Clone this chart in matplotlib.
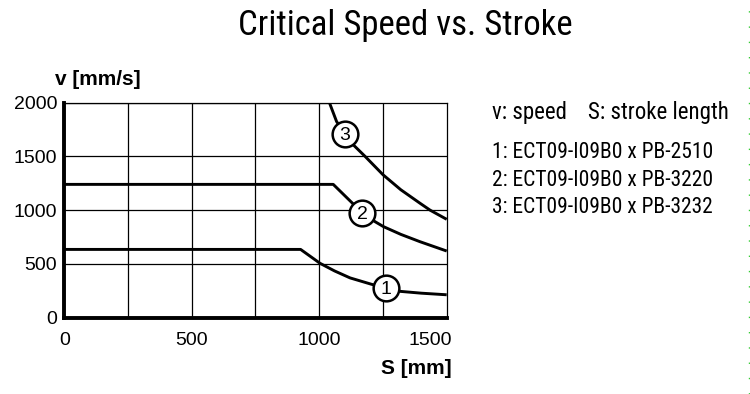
import matplotlib.pyplot as plt
import matplotlib.transforms as mtransforms
from matplotlib.lines import Line2D

# curve data (stroke in mm, speed in mm/s)
stroke_1 = [0, 927, 1003, 1060, 1121, 1206, 1261, 1317, 1400, 1500]
speed_1 = [635, 635, 506, 435, 370, 310, 278, 245, 228, 213]

stroke_2 = [0, 1055, 1169, 1219, 1252, 1320, 1395, 1500]
speed_2 = [1240, 1240, 975, 893, 847, 775, 707, 620]

stroke_3 = [0, 1040, 1068, 1101, 1134, 1180, 1250, 1320, 1395, 1435, 1500]
speed_3 = [2000, 2000, 1825, 1710, 1607, 1500, 1330, 1190, 1065, 1000, 915]

# circled curve numbers
marker_x = [1261, 1169, 1101]
marker_y = [278, 975, 1710]
marker_labels = ["1", "2", "3"]

x_ticks = [0, 500, 1000, 1500]
y_ticks = [0, 500, 1000, 1500, 2000]
x_grid = [250, 500, 750, 1000, 1250]
y_grid = [500, 1000, 1500]

legend_lines = ["v: speed    S: stroke length",
                "1: ECT09-I09B0 x PB-2510",
                "2: ECT09-I09B0 x PB-3220",
                "3: ECT09-I09B0 x PB-3232"]

narrow = ["Roboto Condensed", "Liberation Sans Narrow", "DejaVu Sans"]
plain = ["Liberation Sans", "DejaVu Sans"]

fig = plt.figure(figsize=(7.5, 3.94), dpi=100)
ax = fig.add_axes([0.0857, 0.1937, 0.5099, 0.5457])

for gx in x_grid:
    ax.axvline(gx, color="black", lw=0.9, zorder=1)
for gy in y_grid:
    ax.axhline(gy, color="black", lw=0.9, zorder=1)

for xs, ys in [(stroke_1, speed_1), (stroke_2, speed_2), (stroke_3, speed_3)]:
    ax.plot(xs, ys, color="black", lw=2.1, solid_capstyle="butt", zorder=3)

ax.plot(marker_x, marker_y, "o", ms=18.5, mfc="white", mec="black", mew=1.8,
        ls="none", zorder=4)
for mx, my, lab in zip(marker_x, marker_y, marker_labels):
    ax.text(mx, my, lab, ha="center", va="center_baseline", fontsize=14,
            family=plain, zorder=5)

ax.set_xlim(0, 1500)
ax.set_ylim(0, 2000)
ax.set_xticks(x_ticks)
ax.set_yticks(y_ticks)
ax.tick_params(length=0, labelsize=14)
ax.tick_params(axis="x", pad=10)
ax.tick_params(axis="y", pad=5)
for lab in ax.get_xticklabels() + ax.get_yticklabels():
    lab.set_family(plain)
last = ax.get_xticklabels()[-1]
last.set_horizontalalignment("right")
last.set_transform(last.get_transform() + mtransforms.ScaledTranslation(5 / 100, 0, fig.dpi_scale_trans))

for side in ["left", "bottom"]:
    ax.spines[side].set_linewidth(2.8)
for side in ["top", "right"]:
    ax.spines[side].set_linewidth(0.9)

fig.text(0.0733, 0.797, "v [mm/s]", ha="left", va="center", fontsize=15,
         fontweight="bold", family=plain)
fig.text(0.6027, 0.0635, "S [mm]", ha="right", va="center", fontsize=15,
         fontweight="bold", family=plain)

fig.text(0.54, 0.9365, "Critical Speed vs. Stroke", ha="center", va="center",
         fontsize=25, family=narrow, fontstretch="condensed")

legend_y = [0.7157, 0.6142, 0.5431, 0.4721]
legend_size = [16.5, 15.5, 15.5, 15.5]
for ty, line, fs in zip(legend_y, legend_lines, legend_size):
    fig.text(0.656, ty, line, ha="left", va="center", fontsize=fs,
             family=narrow, fontstretch="condensed")

# dotted green edge seen at the right border of the reference
fig.add_artist(Line2D([0.999, 0.999], [0, 1], transform=fig.transFigure,
                      color="#33cc33", lw=1, ls=(0, (1, 10))))

fig.savefig("out.png", dpi=100)
